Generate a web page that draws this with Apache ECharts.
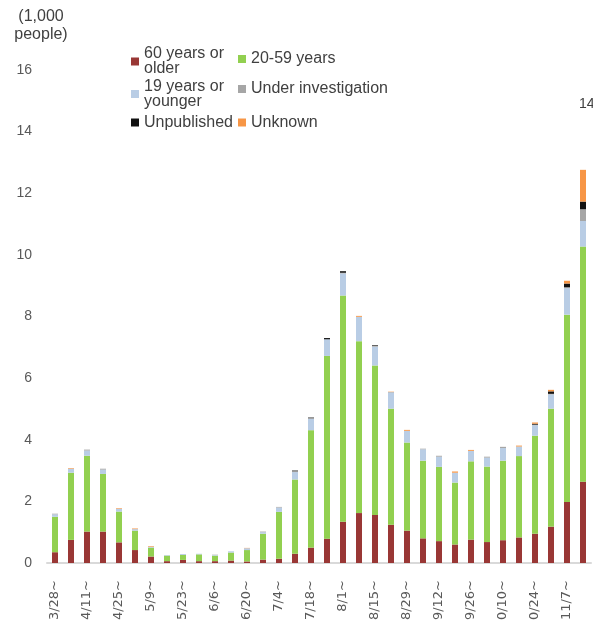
<!DOCTYPE html>
<html>
<head>
<meta charset="utf-8">
<script src="https://cdn.jsdelivr.net/npm/echarts@6/dist/echarts.min.js"></script>
<style>
html,body{margin:0;padding:0;background:#fff;}
#chart{width:593px;height:621px;}
</style>
</head>
<body>
<div id="chart"></div>
<script>
const weeks = ["3/28~","4/4~","4/11~","4/18~","4/25~","5/2~","5/9~","5/16~","5/23~","5/30~","6/6~","6/13~","6/20~","6/27~","7/4~","7/11~","7/18~","7/25~","8/1~","8/8~","8/15~","8/22~","8/29~","9/5~","9/12~","9/19~","9/26~","10/3~","10/10~","10/17~","10/24~","10/31~","11/7~","11/14~"];
const age60plus   = [0.35,0.75,1.02,1.02,0.67,0.42,0.21,0.06,0.10,0.06,0.06,0.08,0.05,0.11,0.14,0.30,0.50,0.79,1.34,1.62,1.56,1.24,1.05,0.80,0.71,0.60,0.76,0.68,0.74,0.83,0.95,1.18,1.98,2.64];
const age20to59   = [1.15,2.18,2.46,1.87,1.00,0.63,0.29,0.18,0.16,0.22,0.18,0.26,0.37,0.84,1.52,2.41,3.81,5.93,7.34,5.58,4.85,3.77,2.86,2.52,2.41,2.01,2.54,2.45,2.58,2.64,3.18,3.83,6.08,7.63];
const age19under  = [0.08,0.13,0.17,0.14,0.09,0.05,0.03,0.02,0.03,0.02,0.02,0.04,0.06,0.05,0.14,0.24,0.37,0.54,0.72,0.79,0.61,0.52,0.38,0.37,0.33,0.32,0.34,0.29,0.41,0.31,0.34,0.46,0.86,0.83];
const underInv    = [0.02,0.00,0.03,0.03,0.00,0.00,0.00,0.00,0.00,0.00,0.01,0.00,0.00,0.02,0.02,0.03,0.02,0.00,0.02,0.00,0.03,0.02,0.00,0.02,0.03,0.00,0.00,0.03,0.04,0.00,0.02,0.02,0.03,0.38];
const unpublished = [0.00,0.00,0.00,0.00,0.00,0.00,0.00,0.00,0.00,0.00,0.00,0.00,0.00,0.00,0.00,0.02,0.02,0.04,0.05,0.00,0.02,0.00,0.00,0.00,0.00,0.00,0.00,0.00,0.00,0.00,0.03,0.08,0.12,0.25];
const unknown     = [0.00,0.02,0.00,0.00,0.02,0.02,0.02,0.00,0.00,0.00,0.00,0.00,0.01,0.00,0.00,0.00,0.00,0.00,0.00,0.03,0.00,0.01,0.03,0.00,0.00,0.04,0.03,0.00,0.00,0.03,0.04,0.05,0.09,1.03];
const yTicks = {min:0, max:16, interval:2};

const names = ["60 years or\nolder","20-59 years","19 years or\nyounger","Under investigation","Unpublished","Unknown"];
const colors = ["#993735","#92d050","#b9cde5","#a6a6a6","#111111","#f79646"];
const datas = [age60plus, age20to59, age19under, underInv, unpublished, unknown];

const legendPos = [[131,46],[238,51],[131,78.5],[238,81],[131,114.5],[238,114.5]];

const chart = echarts.init(document.getElementById('chart'), null, {renderer:'canvas'});
chart.setOption({
  animation:false,
  backgroundColor:'#ffffff',
  grid:{left:47,right:2,top:70,bottom:58,containLabel:false,outerBoundsMode:'none'},
  legend: names.map((n,i)=>({
    data:[n], left:legendPos[i][0], top:legendPos[i][1], padding:0,
    itemWidth:8, itemHeight:8, itemGap:0, itemTextGap:6, icon:'rect',
    selectedMode:false,
    textStyle:{fontFamily:'Liberation Sans, Arial, sans-serif', fontSize:16, lineHeight:15, color:'#404040'}
  })),
  xAxis:{
    type:'category', data:weeks,
    axisTick:{show:false},
    axisLine:{lineStyle:{color:'#d9d9d9', width:2}},
    axisLabel:{interval:1, rotate:90, margin:17, fontFamily:'DejaVu Sans, sans-serif', fontSize:13, color:'#595959'}
  },
  yAxis:{
    type:'value', min:yTicks.min, max:yTicks.max, interval:yTicks.interval,
    splitLine:{show:false}, axisLine:{show:false}, axisTick:{show:false},
    axisLabel:{margin:15, fontFamily:'Liberation Sans, Arial, sans-serif', fontSize:14, color:'#595959'}
  },
  graphic:[
    {type:'text', style:{x:41, y:8, text:'(1,000\npeople)', textAlign:'center', fontFamily:'Liberation Sans, Arial, sans-serif', fontSize:16, lineHeight:18, fill:'#404040'}},
    {type:'text', style:{x:579, y:97, text:'14', fontFamily:'Liberation Sans, Arial, sans-serif', fontSize:14, fill:'#404040'}}
  ],
  series: names.map((n,i)=>({
    name:n, type:'bar', stack:'total', barWidth:6,
    itemStyle:{color:colors[i]},
    data:datas[i]
  }))
});
</script>
</body>
</html>
